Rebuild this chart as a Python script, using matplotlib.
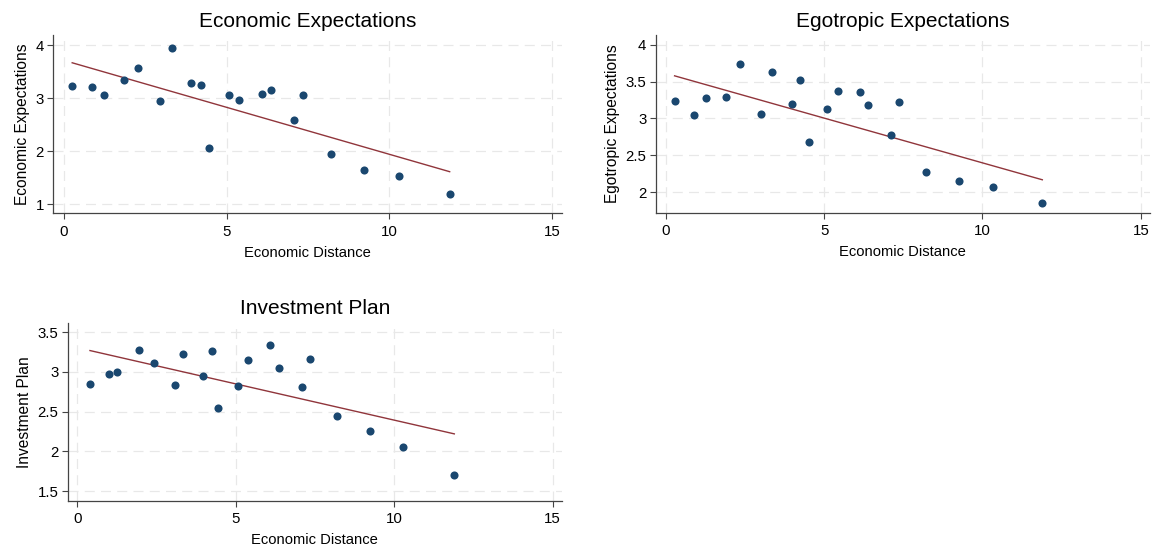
import numpy as np
import matplotlib
matplotlib.use("Agg")
import matplotlib.pyplot as plt

plt.rcParams['font.family'] = ['Liberation Sans', 'DejaVu Sans']

# data
econ_x = [0.26, 0.86, 1.23, 1.86, 2.29, 2.96, 3.31, 3.91, 4.22, 4.45,
          5.06, 5.39, 6.08, 6.35, 7.07, 7.35, 8.21, 9.22, 10.28, 11.85]
econ_y = [3.22, 3.20, 3.05, 3.34, 3.57, 2.95, 3.94, 3.29, 3.24, 2.05,
          3.06, 2.97, 3.07, 3.16, 2.58, 3.06, 1.94, 1.64, 1.52, 1.19]
econ_fit_x = [0.26, 11.85]
econ_fit_y = [3.665, 1.61]

ego_x = [0.28, 0.88, 1.26, 1.89, 2.36, 3.02, 3.35, 3.99, 4.24, 4.51,
         5.10, 5.45, 6.12, 6.40, 7.12, 7.37, 8.22, 9.25, 10.32, 11.89]
ego_y = [3.235, 3.045, 3.28, 3.29, 3.74, 3.06, 3.63, 3.20, 3.52, 2.68,
         3.13, 3.37, 3.36, 3.18, 2.77, 3.23, 2.28, 2.16, 2.07, 1.85]
ego_fit_x = [0.28, 11.89]
ego_fit_y = [3.578, 2.17]

inv_x = [0.40, 0.99, 1.26, 1.94, 2.42, 3.08, 3.34, 3.98, 4.24, 4.45,
         5.07, 5.40, 6.09, 6.38, 7.09, 7.36, 8.20, 9.23, 10.29, 11.90]
inv_y = [2.85, 2.97, 3.00, 3.28, 3.11, 2.84, 3.23, 2.95, 3.27, 2.54,
         2.82, 3.15, 3.34, 3.05, 2.81, 3.16, 2.45, 2.25, 2.06, 1.70]
inv_fit_x = [0.40, 11.90]
inv_fit_y = [3.27, 2.22]

xticks = [0, 5, 10, 15]

panels = [
    ("Economic Expectations", econ_x, econ_y, econ_fit_x, econ_fit_y,
     [1, 2, 3, 4], ["1", "2", "3", "4"],
     [0.04623, 0.60934, 0.44094, 0.32656], (-0.32, 15.29), (0.825, 4.189)),
    ("Egotropic Expectations", ego_x, ego_y, ego_fit_x, ego_fit_y,
     [2, 2.5, 3, 3.5, 4], ["2", "2.5", "3", "3.5", "4"],
     [0.56869, 0.61044, 0.42871, 0.32546], (-0.316, 15.29), (1.724, 4.131)),
    ("Investment Plan", inv_x, inv_y, inv_fit_x, inv_fit_y,
     [1.5, 2, 2.5, 3, 3.5], ["1.5", "2", "2.5", "3", "3.5"],
     [0.05872, 0.08297, 0.42845, 0.32601], (-0.303, 15.29), (1.378, 3.621)),
]

fig = plt.figure(figsize=(11.53, 5.46), dpi=100)

for title, x, y, fx, fy, yt, ytl, pos, xl, yl in panels:
    ax = fig.add_axes(pos)
    ax.scatter(x, y, s=34, color='#1a476f', zorder=3, linewidths=0)
    # fitted line
    ax.plot(fx, fy, color='#90353b', lw=1.0, zorder=2)

    ax.set_xlim(*xl)
    ax.set_ylim(*yl)
    ax.set_xticks(xticks)
    ax.set_yticks(yt)
    ax.set_yticklabels(ytl)
    ax.grid(True, color='#e8e8e8', lw=0.9, ls=(0, (8, 5)), zorder=0)
    for s in ['top', 'right']:
        ax.spines[s].set_visible(False)
    for s in ['left', 'bottom']:
        ax.spines[s].set_color('#444444')
        ax.spines[s].set_linewidth(0.9)
    ax.tick_params(direction='out', length=4.3, width=0.8, color='#444444',
                   labelsize=10.8)
    ax.tick_params(axis='x', pad=4)
    ax.tick_params(axis='y', pad=2.5)
    ax.set_title(title, fontsize=15, pad=6)
    ax.set_xlabel("Economic Distance", fontsize=10.6, labelpad=5)
    ax.set_ylabel(title, fontsize=11.2, labelpad=4)

fig.savefig("out.png", dpi=100)
